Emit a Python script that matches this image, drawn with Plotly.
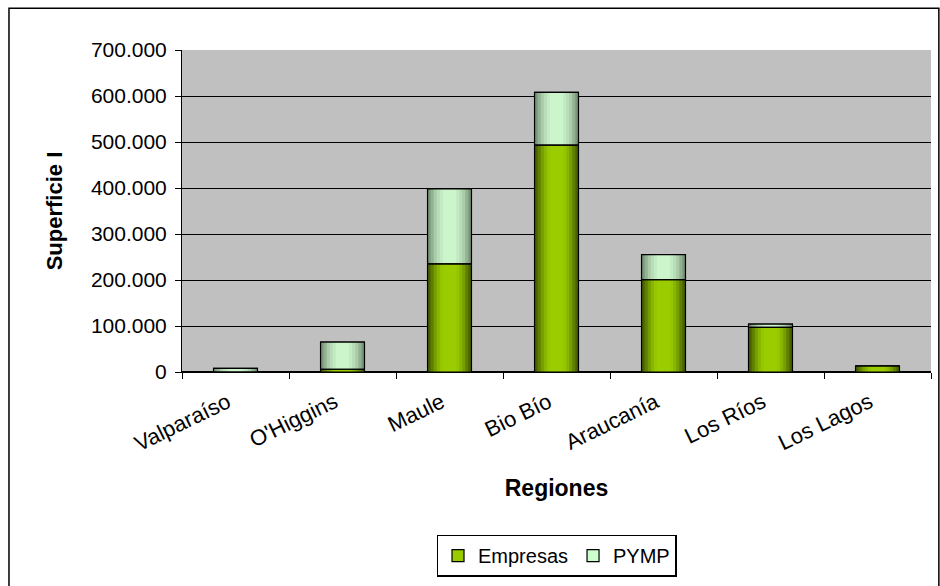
import plotly.graph_objects as go

# Superficie por región, separada entre empresas y PYMP
regiones = ["Valparaíso", "O'Higgins", "Maule", "Bio Bío", "Araucanía", "Los Ríos", "Los Lagos"]
empresas = [0, 6000, 235000, 493000, 201000, 97000, 13000]
pymp = [8000, 59000, 163000, 115000, 54000, 7000, 0]

y_ticks = [0, 100000, 200000, 300000, 400000, 500000, 600000, 700000]
y_tick_text = ["0", "100.000", "200.000", "300.000", "400.000", "500.000", "600.000", "700.000"]

FONT = "Liberation Sans"
BAR_W = 0.41
EMP_COLOR = "#99cc00"
PYM_COLOR = "#ccffcc"

# cylinder-like shading: widest layer darkest, narrow layers lighter
emp_shades = ["#4a6300", "#5f7f00", "#769e00", "#88b500", "#95c700", "#9acc00"]
pym_shades = ["#7b977b", "#93b293", "#a9cca9", "#b8ddb8", "#c3ebc3", "#ccf5cc"]
widths = [BAR_W * f for f in (0.99, 0.86, 0.72, 0.58, 0.44, 0.3)]

fig = go.Figure()

# base layer carries the legend entry (flat colour + black border)
fig.add_trace(go.Bar(
    x=regiones, y=empresas, width=BAR_W, name="Empresas",
    marker=dict(color=EMP_COLOR, line=dict(color="black", width=1.2)),
))
fig.add_trace(go.Bar(
    x=regiones, y=pymp, base=empresas, width=BAR_W, name="PYMP",
    marker=dict(color=PYM_COLOR, line=dict(color="black", width=1.2)),
))

# shading layers
for w, ce, cp in zip(widths, emp_shades, pym_shades):
    fig.add_trace(go.Bar(
        x=regiones, y=empresas, width=w, showlegend=False, hoverinfo="skip",
        marker=dict(color=ce, line=dict(width=0)),
    ))
    fig.add_trace(go.Bar(
        x=regiones, y=pymp, base=empresas, width=w, showlegend=False, hoverinfo="skip",
        marker=dict(color=cp, line=dict(width=0)),
    ))

# outlines on top of the shading
fig.add_trace(go.Bar(
    x=regiones, y=empresas, width=BAR_W, showlegend=False, hoverinfo="skip",
    marker=dict(color="rgba(0,0,0,0)", line=dict(color="black", width=1.2)),
))
fig.add_trace(go.Bar(
    x=regiones, y=pymp, base=empresas, width=BAR_W, showlegend=False, hoverinfo="skip",
    marker=dict(color="rgba(0,0,0,0)", line=dict(color="black", width=1.2)),
))

fig.update_layout(
    barmode="overlay",
    width=940, height=586,
    margin=dict(l=182, r=9, t=50, b=212),
    paper_bgcolor="white",
    plot_bgcolor="#c0c0c0",
    font=dict(family=FONT, size=21, color="black"),
    showlegend=True,
    legend=dict(
        orientation="h", x=0.5, xanchor="center", y=-0.505, yanchor="top",
        bordercolor="black", borderwidth=1.5, bgcolor="white",
        font=dict(size=20), itemwidth=30, traceorder="normal",
    ),
    xaxis=dict(
        tickangle=-26, ticks="outside", ticklen=6, tickcolor="black",
        tickson="boundaries", showline=True, linecolor="black", linewidth=1,
        showgrid=False, range=[-0.5, 6.5],
        ticklabelstandoff=8, ticklabelshift=-8,
        title=dict(text="<b>Regiones</b>", font=dict(size=23), standoff=24),
        tickfont=dict(size=22),
    ),
    yaxis=dict(
        range=[0, 700000], tickvals=y_ticks, ticktext=y_tick_text,
        ticks="outside", ticklen=6, tickcolor="black",
        showline=True, linecolor="black", linewidth=1,
        showgrid=True, gridcolor="black", gridwidth=1.2,
        zeroline=True, zerolinecolor="black",
        ticklabelstandoff=4,
        title=dict(text="<b>Superficie I</b>", font=dict(size=22), standoff=22),
        tickfont=dict(size=21),
    ),
    shapes=[dict(
        type="rect", xref="paper", yref="paper",
        x0=-0.231, x1=1.0105, y0=-0.72, y1=1.13,
        line=dict(color="black", width=1.5), fillcolor="rgba(0,0,0,0)",
    )],
)

fig.write_html("out.html")
